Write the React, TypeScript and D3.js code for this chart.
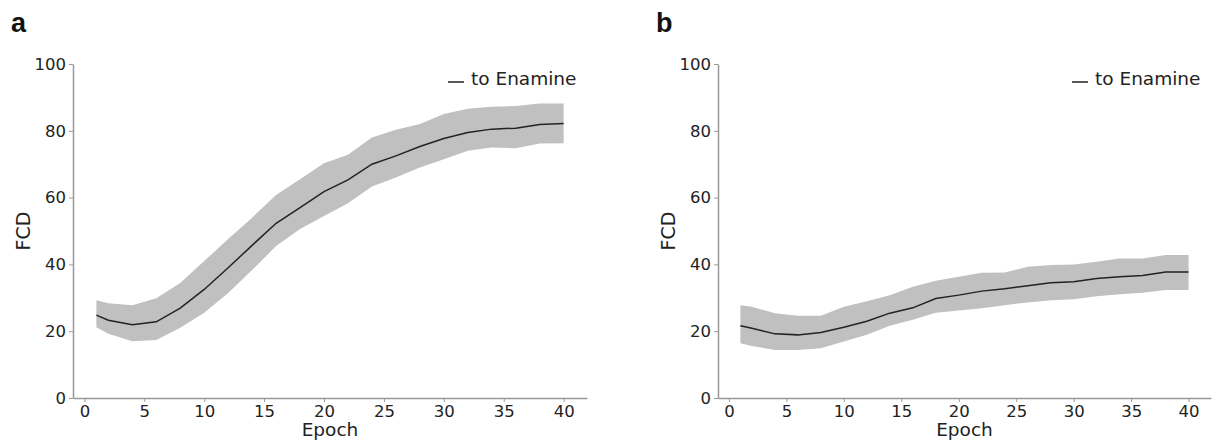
import React, { useEffect, useRef } from 'react';
import * as d3 from 'd3';

// epochs sampled in the figure (first point then every 2 epochs)
const epochs = [1, 2, 4, 6, 8, 10, 12, 14, 16, 18, 20, 22, 24, 26, 28, 30, 32, 34, 36, 38, 40];

// panel a
const meanA = [24.8, 23.3, 21.9, 22.8, 26.9, 32.5, 39.0, 45.7, 52.3, 57.0, 61.8, 65.3, 70.0, 72.5, 75.3, 77.7, 79.5, 80.5, 80.8, 81.9, 82.2];
const upperA = [29.3, 28.4, 27.8, 29.9, 34.4, 41.0, 47.6, 54.0, 60.8, 65.5, 70.3, 72.8, 78.0, 80.3, 82.0, 85.0, 86.6, 87.2, 87.4, 88.2, 88.2];
const lowerA = [21.2, 19.2, 17.0, 17.4, 21.0, 25.5, 31.4, 38.3, 45.5, 50.6, 54.5, 58.3, 63.3, 66.0, 69.0, 71.5, 74.0, 75.0, 74.8, 76.2, 76.3];

// panel b
const meanB = [21.6, 20.9, 19.2, 18.9, 19.6, 21.2, 23.0, 25.4, 27.0, 29.8, 30.8, 32.0, 32.7, 33.6, 34.5, 34.8, 35.8, 36.3, 36.7, 37.7, 37.7];
const upperB = [27.8, 27.3, 25.4, 24.6, 24.6, 27.3, 29.0, 30.8, 33.3, 35.1, 36.3, 37.5, 37.6, 39.3, 39.8, 40.0, 40.8, 41.8, 41.8, 42.8, 42.8];
const lowerB = [16.4, 15.6, 14.4, 14.4, 14.9, 16.9, 18.9, 21.6, 23.4, 25.5, 26.2, 26.9, 27.8, 28.6, 29.3, 29.6, 30.5, 31.1, 31.5, 32.3, 32.3];

const xTicks = [0, 5, 10, 15, 20, 25, 30, 35, 40];
const yTicks = [0, 20, 40, 60, 80, 100];
const legendLabel = 'to Enamine';

const FONT = '"DejaVu Sans", sans-serif';

function Panel({ left, right, letter, letterX, mean, upper, lower }) {
  const ref = useRef(null);

  useEffect(() => {
    const root = d3.select(ref.current);
    root.selectAll('*').remove();

    const top = 64, bottom = 398;
    const x = d3.scaleLinear().domain([-0.95, 41.95]).range([left, right]);
    const y = d3.scaleLinear().domain([0, 100]).range([bottom, top]);

    const rows = epochs.map((e, i) => ({ e, m: mean[i], hi: upper[i], lo: lower[i] }));

    // spread band
    root
      .append('path')
      .datum(rows)
      .attr('fill', '#c0c0c0')
      .attr('d', d3.area().x(d => x(d.e)).y0(d => y(d.lo)).y1(d => y(d.hi)));

    // mean line
    root
      .append('path')
      .datum(rows)
      .attr('fill', 'none')
      .attr('stroke', '#222')
      .attr('stroke-width', 1.5)
      .attr('d', d3.line().x(d => x(d.e)).y(d => y(d.m)));

    const xAxis = root
      .append('g')
      .attr('transform', `translate(0,${bottom})`)
      .call(d3.axisBottom(x).tickValues(xTicks).tickSize(4).tickSizeOuter(0).tickPadding(3));

    const yAxis = root
      .append('g')
      .attr('transform', `translate(${left},0)`)
      .call(d3.axisLeft(y).tickValues(yTicks).tickSize(4).tickSizeOuter(0).tickPadding(3));

    [xAxis, yAxis].forEach(ax => {
      ax.select('.domain').attr('stroke', '#999').attr('stroke-width', 1.5);
      ax.selectAll('.tick line').attr('stroke', '#999');
      ax.selectAll('.tick text')
        .attr('fill', '#222')
        .style('font-family', FONT)
        .style('font-size', '16.5px');
    });

    root
      .append('text')
      .attr('x', (left + right) / 2)
      .attr('y', 436)
      .attr('text-anchor', 'middle')
      .attr('fill', '#222')
      .style('font-family', FONT)
      .style('font-size', '18.5px')
      .text('Epoch');

    root
      .append('text')
      .attr('transform', `translate(${left - 43},${(top + bottom) / 2}) rotate(-90)`)
      .attr('text-anchor', 'middle')
      .attr('fill', '#222')
      .style('font-family', FONT)
      .style('font-size', '19px')
      .text('FCD');

    root
      .append('text')
      .attr('x', letterX)
      .attr('y', 32)
      .attr('fill', '#111')
      .style('font-family', '"Liberation Sans", Arial, sans-serif')
      .style('font-weight', 'bold')
      .style('font-size', '27px')
      .text(letter);

    // legend, top right
    const lx = right - 139;
    root
      .append('line')
      .attr('x1', lx)
      .attr('x2', lx + 16)
      .attr('y1', 82)
      .attr('y2', 82)
      .attr('stroke', '#222')
      .attr('stroke-width', 1.5);
    root
      .append('text')
      .attr('x', lx + 23)
      .attr('y', 85)
      .attr('fill', '#222')
      .style('font-family', FONT)
      .style('font-size', '18.5px')
      .text(legendLabel);
  }, []);

  return <g ref={ref} />;
}

export default function App() {
  return (
    <svg width={1212} height={441} style={{ position: 'absolute', left: 0, top: 0, background: '#fff' }}>
      <Panel left={73} right={587} letter="a" letterX={11} mean={meanA} upper={upperA} lower={lowerA} />
      <Panel left={718} right={1211} letter="b" letterX={656} mean={meanB} upper={upperB} lower={lowerB} />
    </svg>
  );
}
